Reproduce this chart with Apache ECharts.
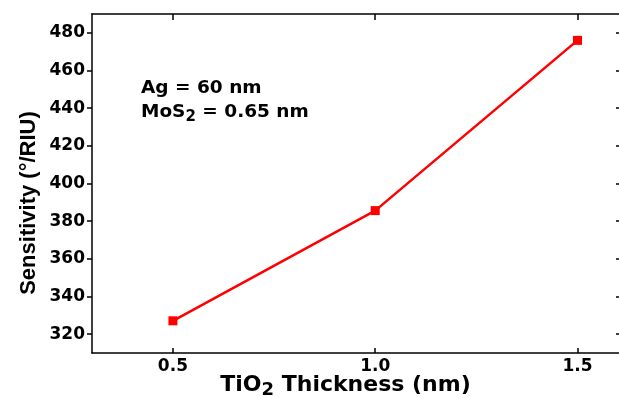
<!DOCTYPE html>
<html>
<head>
<meta charset="utf-8">
<script src="https://cdn.jsdelivr.net/npm/echarts@6/dist/echarts.min.js"></script>
<style>
  html, body { margin: 0; padding: 0; background: #fff; }
  #container { width: 619px; height: 398px; }
</style>
</head>
<body>
<div id="container"></div>
<script>
const thickness = [0.5, 1.0, 1.5];
const sensitivity = [327.1, 385.6, 476.0];
const xTicks = [0.5, 1.0, 1.5];
const yTicks = [320, 340, 360, 380, 400, 420, 440, 460, 480];
const notes = ['Ag = 60 nm', 'MoS', '2', ' = 0.65 nm'];

const dom = document.getElementById('container');
const myChart = echarts.init(dom);

const wideFont = 'DejaVu Sans';
const axisLine = { show: true, lineStyle: { color: '#000', width: 1.5 } };
const tickLabel = {
  color: '#000',
  fontFamily: wideFont,
  fontWeight: 'bold',
  fontSize: 17,
};

const points = thickness.map((x, i) => [x, sensitivity[i]]);

option = {
  animation: false,
  backgroundColor: '#fff',
  grid: {
    left: 92,
    right: -3,
    top: 14,
    bottom: 45,
    outerBoundsMode: 'none',
  },
  xAxis: [
    {
      type: 'value',
      min: 0.3,
      max: 1.61,
      position: 'bottom',
      splitLine: { show: false },
      axisLine: axisLine,
      axisTick: { inside: true, length: 5, customValues: xTicks, lineStyle: { color: '#000', width: 1.5 } },
      axisLabel: Object.assign({ margin: 5, customValues: xTicks, formatter: (v) => v.toFixed(1) }, tickLabel),
      name: '{a|TiO}{s|2}{a| Thickness (nm)}',
      nameLocation: 'middle',
      nameGap: 18,
      nameMoveOverlap: false,
      nameTextStyle: {
        padding: [0, 23, 0, 0],
        rich: {
          a: { fontFamily: wideFont, fontWeight: 'bold', fontSize: 22, color: '#000' },
          s: { fontFamily: wideFont, fontWeight: 'bold', fontSize: 18, color: '#000', padding: [10, 0, 0, 0] },
        },
      },
    },
    {
      type: 'value',
      min: 0.3,
      max: 1.61,
      position: 'top',
      splitLine: { show: false },
      axisLine: axisLine,
      axisTick: { inside: true, length: 6, customValues: xTicks, lineStyle: { color: '#000', width: 1.5 } },
      axisLabel: { show: false },
    },
  ],
  yAxis: [
    {
      type: 'value',
      min: 310,
      max: 490,
      position: 'left',
      splitLine: { show: false },
      axisLine: axisLine,
      axisTick: { inside: false, length: 5, customValues: yTicks, lineStyle: { color: '#000', width: 1.5 } },
      axisLabel: Object.assign({ margin: 7, customValues: yTicks }, tickLabel),
      name: 'Sensitivity (°/RIU)',
      nameLocation: 'middle',
      nameGap: 52,
      nameMoveOverlap: false,
      nameTextStyle: {
        fontFamily: 'Liberation Sans',
        fontWeight: 'bold',
        fontSize: 22,
        color: '#000',
        padding: [0, 39, 0, 0],
      },
    },
    {
      type: 'value',
      min: 310,
      max: 490,
      position: 'right',
      splitLine: { show: false },
      axisLine: axisLine,
      axisTick: { inside: true, length: 6, customValues: yTicks, lineStyle: { color: '#000', width: 1.5 } },
      axisLabel: { show: false },
    },
  ],
  graphic: [
    {
      type: 'text',
      left: 141,
      top: 79,
      style: {
        text: '{a|' + notes[0] + '}\n{a|' + notes[1] + '}{s|' + notes[2] + '}{a|' + notes[3] + '}',
        rich: {
          a: { fontFamily: wideFont, fontWeight: 'bold', fontSize: 18.5, lineHeight: 24, fill: '#000' },
          s: { fontFamily: wideFont, fontWeight: 'bold', fontSize: 15, fill: '#000', padding: [9, 0, 0, 0] },
        },
      },
    },
  ],
  series: [
    {
      type: 'line',
      data: points,
      symbol: 'rect',
      symbolSize: 9,
      itemStyle: { color: '#ff0000' },
      lineStyle: { color: '#ff0000', width: 2.5 },
    },
  ],
};

if (option && typeof option === 'object') {
  myChart.setOption(option, true);
}
</script>
</body>
</html>
